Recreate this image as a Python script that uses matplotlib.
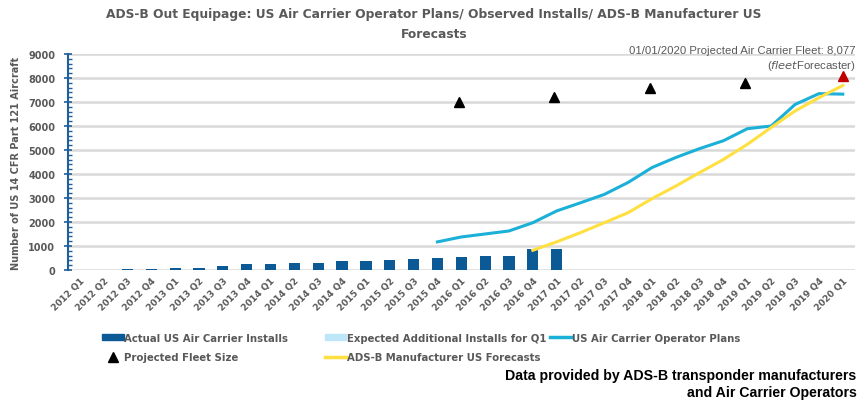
import numpy as np
import matplotlib.pyplot as plt
from matplotlib.ticker import MultipleLocator
from matplotlib.patches import Patch
from matplotlib.lines import Line2D

plt.rcParams['font.family'] = ['DejaVu Sans']

# Kuartal 2012 Q1 .. 2020 Q1
quarters = [f"{y} Q{q}" for y in range(2012, 2020) for q in range(1, 5)] + ["2020 Q1"]

# Instalasi aktual (2012 Q1 .. 2017 Q1)
actual_installs = [0, 0, 50, 50, 100, 100, 170, 250, 250, 310, 310, 370, 370,
                   430, 470, 500, 540, 590, 590, 860, 860]
expected_extra = [0] * len(actual_installs)

# Rencana operator (mulai 2015 Q4)
plans_start = 15
operator_plans = [1170, 1375, 1500, 1625, 1970, 2460, 2800, 3150, 3650, 4270,
                  4690, 5060, 5390, 5890, 6000, 6900, 7350, 7330]

# Prakiraan produsen (mulai 2016 Q4)
forecast_start = 19
manufacturer_forecast = [820, 1170, 1555, 1970, 2390, 2970, 3500, 4060, 4610,
                         5240, 5940, 6630, 7180, 7690]

# Ukuran armada proyeksi
fleet_quarters = ["2016 Q1", "2017 Q1", "2018 Q1", "2019 Q1"]
fleet_size = [7000, 7200, 7600, 7800]
fleet_2020 = 8077

gray = '#595959'
c_bar = '#0b5a96'
c_light = '#bde6f8'
c_plan = '#1ab0d8'
c_fc = '#ffe040'
x = np.arange(len(quarters))

fig = plt.figure(figsize=(8.59, 4.02), dpi=100)
ax = fig.add_axes([0.079, 0.326, 0.916, 0.537])

xa = np.arange(len(actual_installs))
ax.bar(xa, actual_installs, width=0.47, color=c_bar, zorder=3)
ax.bar(xa, expected_extra, bottom=actual_installs, width=0.47, color=c_light, zorder=3)
ax.plot(np.arange(plans_start, plans_start + len(operator_plans)), operator_plans,
        color=c_plan, lw=2.2, zorder=4)
fx = [quarters.index(q) - 0.1 for q in fleet_quarters]
ax.plot(fx, fleet_size, linestyle='none', marker='^', ms=7.5, color='black', zorder=5)
ax.plot(np.arange(forecast_start, forecast_start + len(manufacturer_forecast)),
        manufacturer_forecast, color=c_fc, lw=2.2, zorder=4)
ax.plot([len(quarters) - 1], [fleet_2020], linestyle='none', marker='^', ms=7.5,
        color='#c00000', zorder=5)

ax.set_xlim(-0.5, len(quarters) - 0.5)
ax.set_ylim(0, 9000)
ax.yaxis.set_major_locator(MultipleLocator(1000))
ax.yaxis.set_minor_locator(MultipleLocator(200))
ax.set_xticks(x)
ax.set_xticklabels(quarters, rotation=45, ha='right', rotation_mode='anchor',
                   fontsize=6.5, fontweight='bold', color=gray)
ax.tick_params(axis='x', length=0, pad=4)
ax.tick_params(axis='y', which='major', direction='inout', length=6,
               color='#1f5f9a', labelsize=7, labelcolor=gray, width=1.2, pad=6)
ax.tick_params(axis='y', which='minor', direction='in', length=3,
               color='#1f5f9a', width=1)
for lbl in ax.get_yticklabels():
    lbl.set_fontweight('bold')
ax.grid(axis='y', color='#d9d9d9', lw=1.8, zorder=0)
for s in ['top', 'right', 'bottom']:
    ax.spines[s].set_visible(False)
ax.spines['left'].set_color('#1f5f9a')
ax.spines['left'].set_linewidth(1.5)
ax.set_ylabel('Number of US 14 CFR Part 121 Aircraft', fontsize=7,
              fontweight='bold', color=gray, labelpad=5)

fig.text(0.505, 0.963, 'ADS-B Out Equipage: US Air Carrier Operator Plans/ Observed Installs/ ADS-B Manufacturer US',
         ha='center', va='center', fontsize=8.8, fontweight='bold', color=gray)
fig.text(0.505, 0.915, 'Forecasts', ha='center', va='center', fontsize=8.8,
         fontweight='bold', color=gray)

fig.text(0.996, 0.873, '01/01/2020 Projected Air Carrier Fleet: 8,077',
         ha='right', va='center', fontsize=8.2, color=gray, family='Liberation Sans')
fig.text(0.996, 0.836, r'($\it{fleet}$Forecaster)', ha='right', va='center',
         fontsize=8.2, color=gray, family='Liberation Sans')

# Legenda dalam tiga kolom
legend_cols = [
    (0.119, [Patch(color=c_bar), Line2D([], [], ls='none', marker='^', ms=7, color='black')],
     ['Actual US Air Carrier Installs', 'Projected Fleet Size']),
    (0.378, [Patch(color=c_light), Line2D([], [], color=c_fc, lw=2.5)],
     ['Expected Additional Installs for Q1', 'ADS-B Manufacturer US Forecasts']),
    (0.640, [Line2D([], [], color=c_plan, lw=2.5)], ['US Air Carrier Operator Plans']),
]
for xpos, hs, ls in legend_cols:
    leg = fig.legend(hs, ls, loc='upper left', bbox_to_anchor=(xpos, 0.17),
                     frameon=False, fontsize=7.3, handlelength=2.1, handleheight=0.55,
                     handletextpad=0.05, labelspacing=0.95, borderpad=0, borderaxespad=0)
    for t in leg.get_texts():
        t.set_fontweight('bold')
        t.set_color(gray)

fig.text(0.997, 0.065, 'Data provided by ADS-B transponder manufacturers',
         ha='right', va='center', fontsize=10.2, fontweight='bold', color='black',
         family='Liberation Sans')
fig.text(0.997, 0.022, 'and Air Carrier Operators', ha='right', va='center',
         fontsize=10.2, fontweight='bold', color='black', family='Liberation Sans')

fig.savefig('out.png', dpi=100)
